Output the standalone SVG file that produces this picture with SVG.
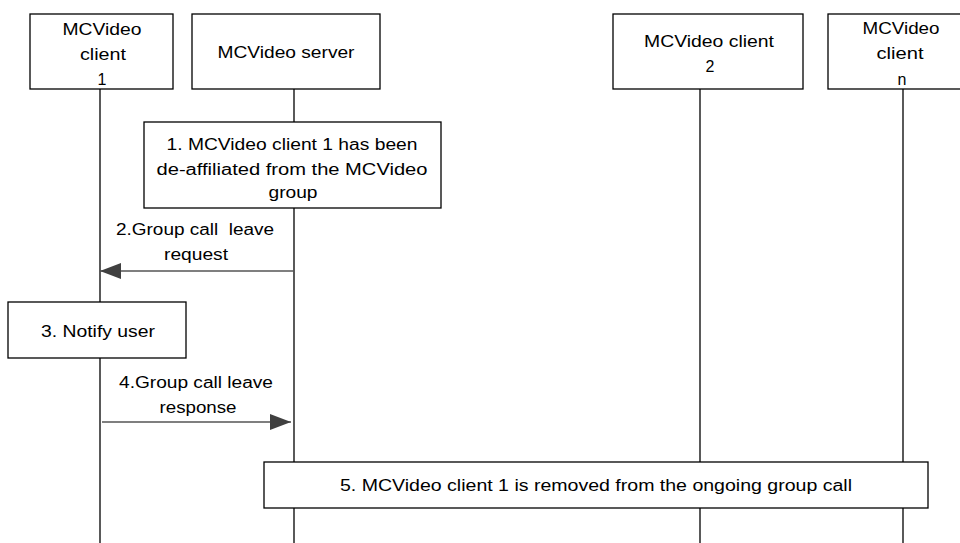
<svg xmlns="http://www.w3.org/2000/svg" width="960" height="543" viewBox="0 0 960 543">
<defs>
<style>
.box{fill:#fff;stroke:#000;stroke-width:1.3}
.life{stroke:#000;stroke-width:1.3;fill:none}
.msg{stroke:#555;stroke-width:1.3;fill:none}
text{font-family:"Liberation Sans",Arial,sans-serif;font-size:16px;fill:#000;text-anchor:middle}
</style>
<marker id="ah" viewBox="0 0 21 16" refX="21" refY="8" markerWidth="21" markerHeight="16" markerUnits="userSpaceOnUse" orient="auto">
<path d="M0,0 L21,8 L0,16 Z" fill="#404040"/>
</marker>
</defs>
<rect width="960" height="543" fill="#fff"/>
<g id="lifelines">
<line class="life" x1="100" y1="89" x2="100" y2="543"/>
<line class="life" x1="294" y1="89" x2="294" y2="543"/>
<line class="life" x1="700" y1="89" x2="700" y2="543"/>
<line class="life" x1="903" y1="89" x2="903" y2="543"/>
</g>
<g id="client1">
<rect class="box" x="30" y="14" width="143" height="75"/>
<text x="102" y="35" textLength="79" lengthAdjust="spacingAndGlyphs">MCVideo</text>
<text x="103" y="60" textLength="46" lengthAdjust="spacingAndGlyphs">client</text>
<text x="102" y="85">1</text>
</g>
<g id="server">
<rect class="box" x="192" y="14" width="188" height="75"/>
<text x="286" y="58" textLength="137" lengthAdjust="spacingAndGlyphs">MCVideo server</text>
</g>
<g id="client2">
<rect class="box" x="613" y="14" width="190" height="75"/>
<text x="709" y="47" textLength="130" lengthAdjust="spacingAndGlyphs">MCVideo client</text>
<text x="710" y="72">2</text>
</g>
<g id="clientn">
<rect class="box" x="828" y="14" width="148" height="75"/>
<text x="901" y="34" textLength="77" lengthAdjust="spacingAndGlyphs">MCVideo</text>
<text x="900" y="59" textLength="47" lengthAdjust="spacingAndGlyphs">client</text>
<text x="902" y="85">n</text>
</g>
<g id="step1">
<rect class="box" x="144" y="122" width="297" height="86"/>
<text x="292" y="150" textLength="251" lengthAdjust="spacingAndGlyphs">1. MCVideo client 1 has been</text>
<text x="292" y="175" textLength="271" lengthAdjust="spacingAndGlyphs">de-affiliated from the MCVideo</text>
<text x="293" y="198" textLength="49" lengthAdjust="spacingAndGlyphs">group</text>
</g>
<g id="step3">
<rect class="box" x="8" y="302" width="178" height="56"/>
<text x="98" y="337" textLength="114" lengthAdjust="spacingAndGlyphs">3. Notify user</text>
</g>
<g id="step5">
<rect class="box" x="264" y="462" width="664" height="46"/>
<text x="596" y="491" textLength="512" lengthAdjust="spacingAndGlyphs">5. MCVideo client 1 is removed from the ongoing group call</text>
</g>
<g id="connectors">
<line class="msg" x1="294" y1="271" x2="100" y2="271" marker-end="url(#ah)"/>
<line class="msg" x1="102" y1="422" x2="291" y2="422" marker-end="url(#ah)"/>
</g>
<g id="labels">
<text x="195" y="235" textLength="158" lengthAdjust="spacingAndGlyphs" xml:space="preserve">2.Group call  leave</text>
<text x="196" y="260" textLength="64" lengthAdjust="spacingAndGlyphs">request</text>
<text x="196" y="388" textLength="154" lengthAdjust="spacingAndGlyphs">4.Group call leave</text>
<text x="198" y="413" textLength="77" lengthAdjust="spacingAndGlyphs">response</text>
</g>
</svg>
